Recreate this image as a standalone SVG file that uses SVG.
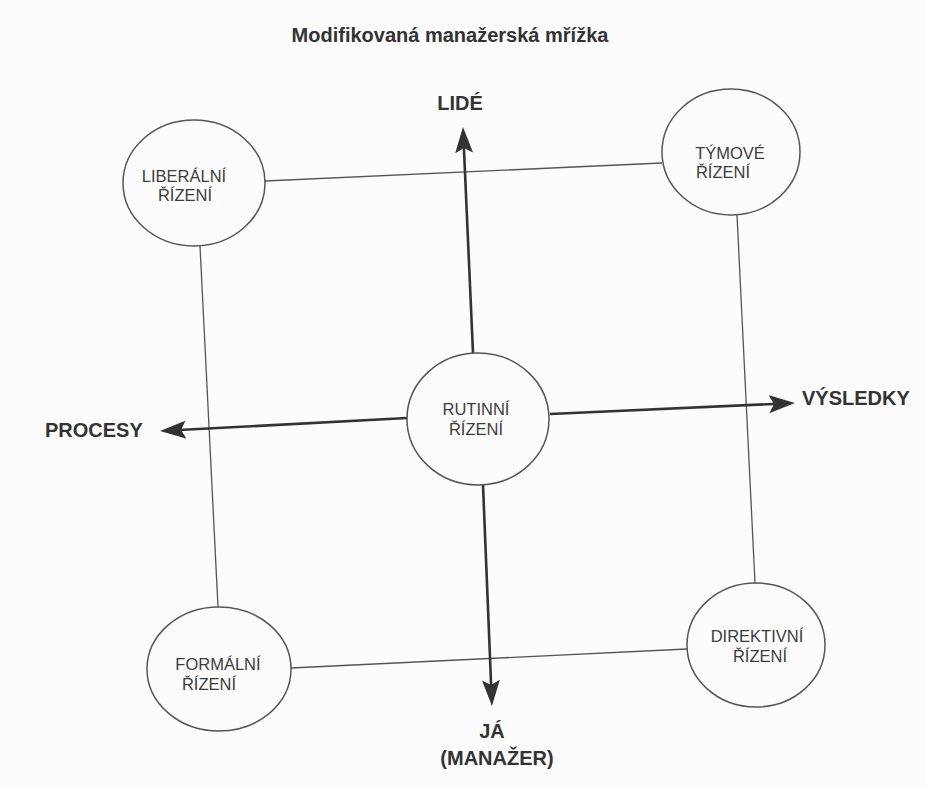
<svg xmlns="http://www.w3.org/2000/svg" width="926" height="787" viewBox="0 0 926 787">
<style>
.bg{fill:#fcfcfc}
.node ellipse{fill:#fcfcfc;stroke:#555;stroke-width:1.5}
.node text{font-family:"Liberation Sans",Arial,sans-serif;font-size:16.5px;fill:#3c3c3c;text-anchor:middle}
.grid{stroke:#555;stroke-width:1.3;fill:none}
.axis{stroke:#333;stroke-width:2.6;fill:none}
.lbl{font-family:"Liberation Sans",Arial,sans-serif;font-size:20px;font-weight:bold;fill:#333}
</style>
<defs>
<marker id="ah" viewBox="0 0 26 18" markerWidth="26" markerHeight="18" markerUnits="userSpaceOnUse" refX="12" refY="9" orient="auto">
<path d="M0,0 L26,9 L0,18 L5,9 z" fill="#333"/>
</marker>
</defs>
<rect class="bg" x="0" y="0" width="926" height="787"/>
<text class="lbl" x="450" y="42" text-anchor="middle" font-size="19.5">Modifikovaná manažerská mřížka</text>
<g id="connectors">
<line class="grid" x1="265" y1="181" x2="662" y2="163"/>
<line class="grid" x1="291" y1="668" x2="687" y2="649"/>
<line class="grid" x1="200" y1="246" x2="218" y2="607"/>
<line class="grid" x1="737" y1="215" x2="755" y2="583"/>
<line class="axis" x1="473" y1="353" x2="463.6" y2="141" marker-end="url(#ah)"/>
<line class="axis" x1="483" y1="485" x2="491.4" y2="692" marker-end="url(#ah)"/>
<line class="axis" x1="407" y1="418" x2="174" y2="430.3" marker-end="url(#ah)"/>
<line class="axis" x1="550" y1="414" x2="781" y2="403.6" marker-end="url(#ah)"/>
</g>
<g id="liberalni" class="node">
<ellipse cx="194" cy="183" rx="71" ry="63"/>
<text x="184" y="182">LIBERÁLNÍ</text>
<text x="185" y="201">ŘÍZENÍ</text>
</g>
<g id="tymove" class="node">
<ellipse cx="731" cy="152" rx="69" ry="63"/>
<text x="730" y="159">TÝMOVÉ</text>
<text x="723" y="178">ŘÍZENÍ</text>
</g>
<g id="rutinni" class="node">
<ellipse cx="478" cy="419" rx="71" ry="66"/>
<text x="476" y="415">RUTINNÍ</text>
<text x="476" y="435">ŘÍZENÍ</text>
</g>
<g id="formalni" class="node">
<ellipse cx="219" cy="669" rx="72" ry="62"/>
<text x="218" y="670">FORMÁLNÍ</text>
<text x="209" y="690">ŘÍZENÍ</text>
</g>
<g id="direktivni" class="node">
<ellipse cx="756" cy="645" rx="69" ry="62"/>
<text x="757" y="642">DIREKTIVNÍ</text>
<text x="760" y="662">ŘÍZENÍ</text>
</g>
<g id="labels">
<text class="lbl" x="460" y="110" text-anchor="middle">LIDÉ</text>
<text class="lbl" x="45" y="437">PROCESY</text>
<text class="lbl" x="802" y="405">VÝSLEDKY</text>
<text class="lbl" x="492" y="738" text-anchor="middle">JÁ</text>
<text class="lbl" x="497" y="765" text-anchor="middle">(MANAŽER)</text>
</g>
</svg>
